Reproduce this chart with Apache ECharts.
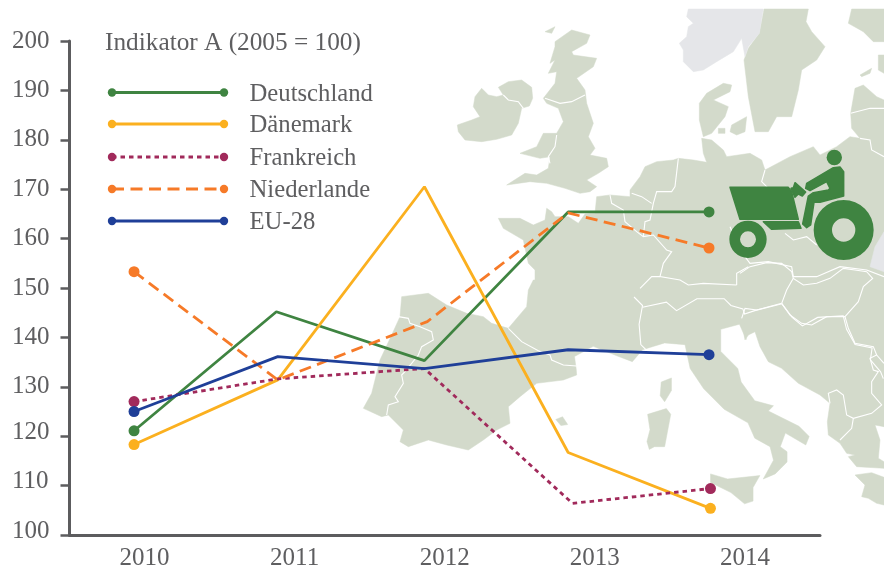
<!DOCTYPE html>
<html><head><meta charset="utf-8">
<style>html,body{margin:0;padding:0;background:#fff}#c{width:884px;height:571px}</style>
<script src="https://cdn.jsdelivr.net/npm/echarts@6/dist/echarts.min.js"></script>
</head><body><div id="c"></div>
<script>
// ---- data ----
const categories = ['2010','2011','2012','2013','2014'];
const yTicks = [100,200];
const deutschland = [121.1,145.2,135.3,165.4,165.4];
const daenemark   = [118.3,131.4,170.5,116.7,105.4];
const frankreich  = [127.0,131.6,133.7,106.4,109.4];
const niederlande = [153.3,131.4,143.2,165.2,158.1];
const eu28        = [125.0,136.1,133.7,137.5,136.5];
// horizontal position of each point on the year scale (the drawn points sit slightly off-grid)
const xDeutschland = [2010,2010.99,2012.02,2013.02,2014];
const xDaenemark   = [2010,2011,2012.02,2013.02,2014.01];
const xFrankreich  = [2010,2011,2012.02,2013.05,2014.01];
const xNiederlande = [2010,2011,2012.04,2013.02,2014];
const xEu28        = [2010,2011,2012.02,2013.02,2014];

const names   = ['Deutschland','Dänemark','Frankreich','Niederlande','EU-28'];
const colors  = ['#3f8441','#fbb01f','#a12a5b','#f67a28','#1f3f98'];
const dashes  = ['solid','solid',[4.5,4],[12,6.5],'solid'];
const values  = [deutschland,daenemark,frankreich,niederlande,eu28];
const xs      = [xDeutschland,xDaenemark,xFrankreich,xNiederlande,xEu28];
const title   = 'Indikator A (2005 = 100)';

const FONT = '"Liberation Serif", serif';
const TEXT = '#5e5e60';
const LAND = '#d3dacb';
const GREY = '#e5e6e9';
const TRACTOR = '#3f8441';

// ---- backdrop map helpers: outlines traced in crop space ----
function P(ox,oy,s,a){const r=[];for(let i=0;i<a.length;i+=2)r.push([ox+a[i]/s,oy+a[i+1]/s]);return r;}
const A=a=>P(440,0,3,a), B=a=>P(350,280,2.94,a), C=a=>P(350,280,3,a), D=a=>P(740,240,3,a), E=a=>P(640,120,3,a), F=a=>P(800,0,3,a);

const mainland = [].concat(
 A([175,655,240,655,280,675,315,660,320,625,335,635,345,650,385,650,415,670,435,642,465,640,470,590,510,585,570,590,570,570,600,530,615,500,650,485,700,480,715,475,760,480,800,487,790,460,785,415,815,420,850,450,860,470,930,460,965,480,975,510,1050,470,1120,440,1140,465,1190,440,1230,410,1260,415,1235,385,1232,340,1245,265,1270,255,1310,290,1332,300]),
 D([432,560,405,555,420,600,415,655,432,665,432,685,350,680,325,650,345,645,320,640,300,610,265,585,262,545,270,490,240,465,175,430,125,385,85,365,60,320,45,275,25,285,15,300,8,262]),
 B([1160,125,1165,175,1145,130,1090,145,1090,210,1140,260,1150,300,1190,355,1245,370,1230,385,1320,430,1350,460,1340,485,1280,450,1265,490,1285,505,1285,535,1250,570,1215,585,1245,530,1235,490,1190,465,1170,420,1100,380,1040,320,1000,260,985,190,925,185,860,205,830,240,790,225,715,195,660,225,665,262]),
 C([680,285,640,300,560,310,510,350,475,380,480,430,440,450,400,480,355,510,290,495,235,480,175,500,150,485,160,450,115,405,95,410,40,385,65,340,90,240,125,165,150,110,155,50,235,40,290,75,350,100,400,110,425,130,475,145,530,80,535,30,550,0]),
 A([285,840,285,810,265,790,250,720,190,685])
);
const landPolys = [
 mainland,
 A([52,375,95,360,120,350,100,320,105,290,125,265,145,285,170,290,190,285,175,262,205,245,245,240,275,262,278,295,268,318,245,325,235,370,215,405,170,418,125,425,75,420,55,395]),
 A([345,125,395,90,450,105,440,130,395,155,400,165,470,175,460,200,410,235,435,270,440,310,460,370,445,410,465,445,450,465,500,475,505,500,475,520,440,540,470,560,450,575,420,580,375,565,320,550,270,545,200,555,255,520,290,525,325,505,330,470,300,475,240,460,290,440,310,400,350,400,370,365,355,325,320,310,310,295,345,250,350,215,325,220,345,180,330,190,345,140]),
 A([972,27,1105,27,1098,65,1115,95,1155,140,1130,180,1085,210,1075,270,1055,350,1010,350,985,395,945,395,925,290,912,180,925,145,958,100]),
 A([1235,27,1332,27,1332,125,1300,125,1270,95,1225,70]),
 A([778,310,800,280,850,250,875,255,870,275,820,300,865,320,855,350,815,400,790,410,778,360]),
 A([875,375,920,350,915,395,890,405,870,395]),
 A([835,385,855,385,855,400,835,400]),
 B([915,300,945,288,945,325,925,358,912,340]),
 B([875,395,930,378,943,395,925,490,895,490,880,498,873,475,882,440]),
 B([1060,570,1110,585,1205,575,1185,610,1185,650,1160,658,1120,625,1060,595]),
 B([605,410,625,402,640,425,620,428]),
 D([345,705,395,698,432,712,432,795,410,790,385,775,365,770,375,735]),
 F([180,225,215,205,210,220,185,230]),
 F([235,165,252,165,252,220,235,210]),
 A([315,95,345,80,335,100])
];
const greyPolys = [
 A([745,27,970,27,958,100,925,140,915,170,905,115,880,155,830,185,790,210,760,215,730,185,730,150,718,130,740,110,745,80,760,70,740,50]),
 E([690,440,705,380,732,335,732,455])
];
const borders = [
 A([315,295,360,310,395,305,435,285]),
 A([350,405,345,440,325,470,330,490]),
 A([190,285,205,300,235,305,250,325]),
 C([145,110,175,115,180,130,210,140,245,155,250,180,215,200,205,225,165,275,155,285,160,310,135,350,145,365,115,375,110,405]),
 C([475,145,515,185,565,212,600,225,605,240,640,255,680,258]),
 A([510,585,515,610,550,630,555,665,590,695,610,710,640,705,680,750,695,755,670,790,660,830,720,840,745,855,790,850,890,855]),
 A([660,830,635,830,600,865]),
 B([835,50,860,75,850,130,855,190,870,205]),
 B([860,80,930,65,960,90,1020,55,1100,55,1120,75,1155,85,1160,100,1190,90,1270,70,1300,110,1330,135,1375,110,1450,105,1460,145,1485,190,1535,200,1530,235,1560,270,1568,290]),
 A([715,475,705,560,695,575,650,575,640,610,630,660,615,665,610,710]),
 A([575,580,605,590,635,610]),
 A([975,510,965,545,985,565]),
 A([1035,700,1060,720,1100,710,1130,735]),
 A([870,680,900,750,930,790,985,785,1055,800,1060,830,1130,830,1200,800,1280,810,1332,830]),
 A([890,855,890,820,925,800]),
 A([1260,415,1290,420,1295,450,1332,470]),
 A([1232,340,1290,325,1332,325]),
 D([0,100,30,80,80,68,125,70,155,95,160,115,190,135,230,130,270,115,310,85,345,90,380,95,398,115,370,140,355,185,315,230,325,265,345,310,400,320,410,345,390,355,400,390,415,395,395,425,395,460,425,495,395,520,340,535,320,525,310,465,290,450,265,460,270,490]),
 D([125,190,150,225,185,250,215,255,260,230,315,230]),
 D([125,190,140,150,160,115]),
 D([125,190,50,210,15,205,5,235]),
 D([340,535,335,565,300,600]),
 D([410,345,432,370])
];

const tractorPolys = [
 E([270,202,445,202,455,215,475,298,300,298]),
 E([370,305,475,305,483,325,395,328]),
 E([500,190,580,143,600,141,611,155,611,228,540,247,522,247,512,315,500,323,488,312,505,228,520,218,565,210,570,205,560,185,510,212,497,205]),
 E([465,188,497,216,487,228,475,222,465,232,453,205,460,203])
];
const tractorWheels = [[324,358,56,24],[611,330,90,35]];

const gfx = [];
landPolys.forEach(p=>gfx.push({type:'polygon',silent:true,z:0,shape:{points:p,smooth:0},style:{fill:LAND,stroke:LAND,lineWidth:0.5}}));
greyPolys.forEach(p=>gfx.push({type:'polygon',silent:true,z:0,shape:{points:p},style:{fill:GREY,stroke:GREY,lineWidth:0.5}}));
borders.forEach(p=>gfx.push({type:'polyline',silent:true,z:0,shape:{points:p},style:{fill:null,stroke:'#ffffff',lineWidth:1.1}}));
tractorPolys.forEach(p=>gfx.push({type:'polygon',silent:true,z:0,shape:{points:p},style:{fill:TRACTOR,stroke:TRACTOR,lineWidth:1.5,lineJoin:'round'}}));
tractorWheels.forEach(w=>gfx.push({type:'ring',silent:true,z:0,shape:{cx:640+w[0]/3,cy:120+w[1]/3,r:w[2]/3,r0:w[3]/3},style:{fill:TRACTOR}}));
gfx.push({type:'circle',silent:true,z:0,shape:{cx:834.3,cy:157.5,r:7.7},style:{fill:TRACTOR}});

// chart title and legend
gfx.push({type:'text',z:20,style:{x:105,y:43,text:title,font:'25.3px '+FONT,fill:TEXT,textVerticalAlign:'middle'}});
const rowY=[92.5,124,157,189,221];
names.forEach((n,i)=>{
 const y=rowY[i];
 gfx.push({type:'line',z:20,silent:true,shape:{x1:112,y1:y,x2:224,y2:y},style:{stroke:colors[i],lineWidth:2.8,lineDash:dashes[i]==='solid'?null:dashes[i]}});
 [112,224].forEach(x=>gfx.push({type:'circle',z:21,silent:true,shape:{cx:x,cy:y,r:4.2},style:{fill:colors[i]}}));
 gfx.push({type:'text',z:20,style:{x:249.5,y:y+2,text:n,font:'24.7px '+FONT,fill:TEXT,textVerticalAlign:'middle'}});
});

const chart = echarts.init(document.getElementById('c'),null,{renderer:'canvas'});
chart.setOption({
 animation:false,
 backgroundColor:'#fff',
 grid:{left:69.5,right:64,top:41,bottom:35.5},
 graphic:{elements:gfx},
 xAxis:[
  {type:'category',data:categories,boundaryGap:true,
   axisLine:{lineStyle:{color:'#5c5c5e',width:3}},
   axisTick:{inside:true,length:8,alignWithLabel:false,lineStyle:{color:'#5c5c5e',width:2}},
   axisLabel:{color:TEXT,fontFamily:FONT,fontSize:25,margin:11},
   splitLine:{show:false}},
  {type:'value',min:2009.551,max:2014.772,show:false,splitLine:{show:false}}
 ],
 yAxis:[{type:'value',min:yTicks[0],max:yTicks[1],interval:10,
   axisLine:{show:true,lineStyle:{color:'#5c5c5e',width:3}},
   axisTick:{show:true,length:9,lineStyle:{color:'#5c5c5e',width:2.5}},
   splitLine:{show:false},
   axisLabel:{color:TEXT,fontFamily:FONT,fontSize:25,align:'left',margin:57.5,
     formatter:v=>v<=120?'{low|'+v+'}':String(v),
     rich:{low:{color:TEXT,fontFamily:FONT,fontSize:25,padding:[0,0,8,0]}}}
 }],
 series:names.map((n,i)=>({
   name:n,type:'line',xAxisIndex:1,yAxisIndex:0,
   data:values[i].map((v,j)=>[xs[i][j],v]),
   showAllSymbol:true,symbol:'circle',
   symbolSize:(v,p)=>(p.dataIndex===0||p.dataIndex===values[i].length-1)?11:0,
   lineStyle:{color:colors[i],width:2.8,type:dashes[i]},
   itemStyle:{color:colors[i]},
   z:5+i,clip:false
 }))
});
</script></body></html>
